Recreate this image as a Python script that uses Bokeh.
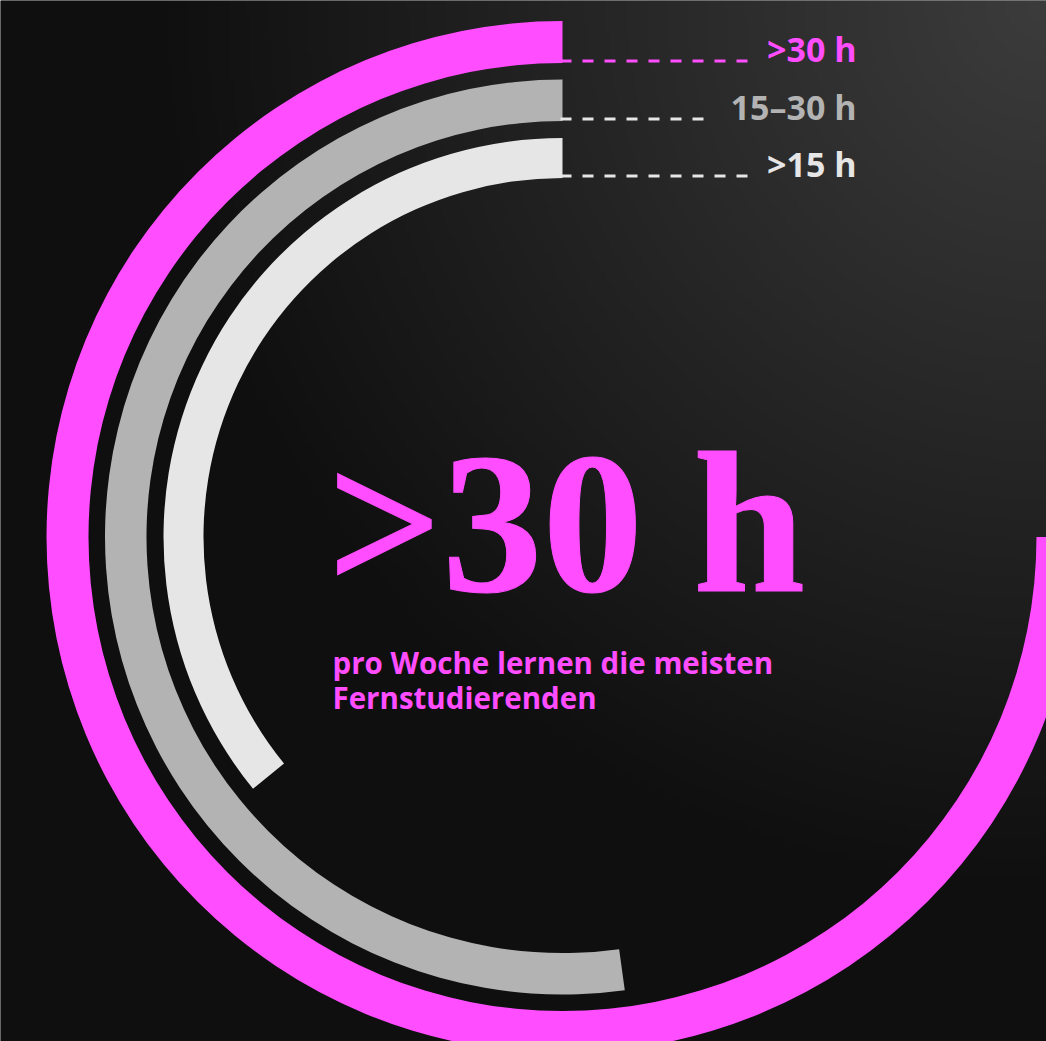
import numpy as np
from bokeh.plotting import figure
from bokeh.models import Range1d, ColumnDataSource
from bokeh.core.properties import value
from bokeh.embed import file_html
from bokeh.resources import INLINE

# ---- data ----
categories = [">30 h", "15–30 h", ">15 h"]
shares = [46, 32, 22]          # share of students (percent), read from arc lengths
headline = ">30 h"
subtitle_lines = ["pro Woche lernen die meisten", "Fernstudierenden"]

# ---- styles ----
ring_colors = ["#ff4dff", "#b3b3b3", "#e6e6e6"]
dash_colors = ["#ff4dff", "#e6e6e6", "#e6e6e6"]
outer_r = [516, 457.5, 399]
inner_r = [474, 416, 359]
dash_end = [186, 149, 186]
MAX_SWEEP = 1.5 * np.pi
BASE_FIX = 0.44   # em offset compensation for baseline placement

W, H = 1046, 1041
CX, CY = 562, 536.5   # center in page pixels
x0, x1 = -CX, W - CX
y0, y1 = CY - H, CY

p = figure(width=W, height=H, output_backend="svg", toolbar_location=None,
           x_range=Range1d(x0, x1), y_range=Range1d(y0, y1),
           min_border=0, outline_line_color=None,
           background_fill_color="#111111", border_fill_color="#111111")
p.axis.visible = False
p.grid.visible = False

# background radial gradient (top right lighter)
GH, GW = 256, 256
xs = np.linspace(x0, x1, GW)
ys = np.linspace(y0, y1, GH)
XX, YY = np.meshgrid(xs, ys)
PX = XX + CX
PY = CY - YY
d = np.hypot(PX - 1046, PY - 0)
v = (15 + 45 * np.clip(1 - d / 900, 0, 1)).astype(np.uint8)
img = np.zeros((GH, GW), dtype=np.uint32)
view = img.view(dtype=np.uint8).reshape((GH, GW, 4))
view[:, :, 0] = v
view[:, :, 1] = v
view[:, :, 2] = v
view[:, :, 3] = 255
p.image_rgba(image=[img], x=x0, y=y0, dw=W, dh=H)

mx = max(shares)
sweeps = [s / mx * MAX_SWEEP for s in shares]
src = ColumnDataSource(dict(
    cat=categories,
    inner=inner_r, outer=outer_r,
    start=[np.pi / 2] * 3,
    end=[np.pi / 2 + s for s in sweeps],
    color=ring_colors,
))
p.annular_wedge(x=0, y=0, inner_radius="inner", outer_radius="outer",
                start_angle="start", end_angle="end", direction="anticlock",
                fill_color="color", line_color=None, source=src)

# dashed leader lines and labels
LS = 34
for i, cat in enumerate(categories):
    yl = inner_r[i] + 2
    p.line(x=[-2, dash_end[i]], y=[yl, yl], line_color=dash_colors[i],
           line_width=3, line_dash="11 11")
    p.text(x=[294], y=[yl - 3 + BASE_FIX * LS], text=[cat], text_color=ring_colors[i],
           text_font=value("Open Sans"), text_font_style="bold",
           text_font_size=f"{LS}px", text_align="right", text_baseline="alphabetic")

# subtitle and headline
SS = 29.5
for j, line in enumerate(subtitle_lines):
    p.text(x=[-230], y=[CY - 675 - 35 * j + BASE_FIX * SS], text=[line], text_color="#ff4dff",
           text_font=value("Open Sans"), text_font_style="bold",
           text_font_size=f"{SS}px", text_align="left", text_baseline="alphabetic")

HS = 201
hr = p.text(x=[-235], y=[CY - 594 + 0.355 * HS], text=[headline], text_color="#ff4dff",
            text_font=value("Liberation Serif"), text_font_style="bold",
            text_font_size=f"{HS}px", text_align="left", text_baseline="alphabetic")
if "text_outline_color" in hr.glyph.properties():
    hr.glyph.text_outline_color = "#ff4dff"

open("out.html", "w").write(file_html(p, INLINE))
